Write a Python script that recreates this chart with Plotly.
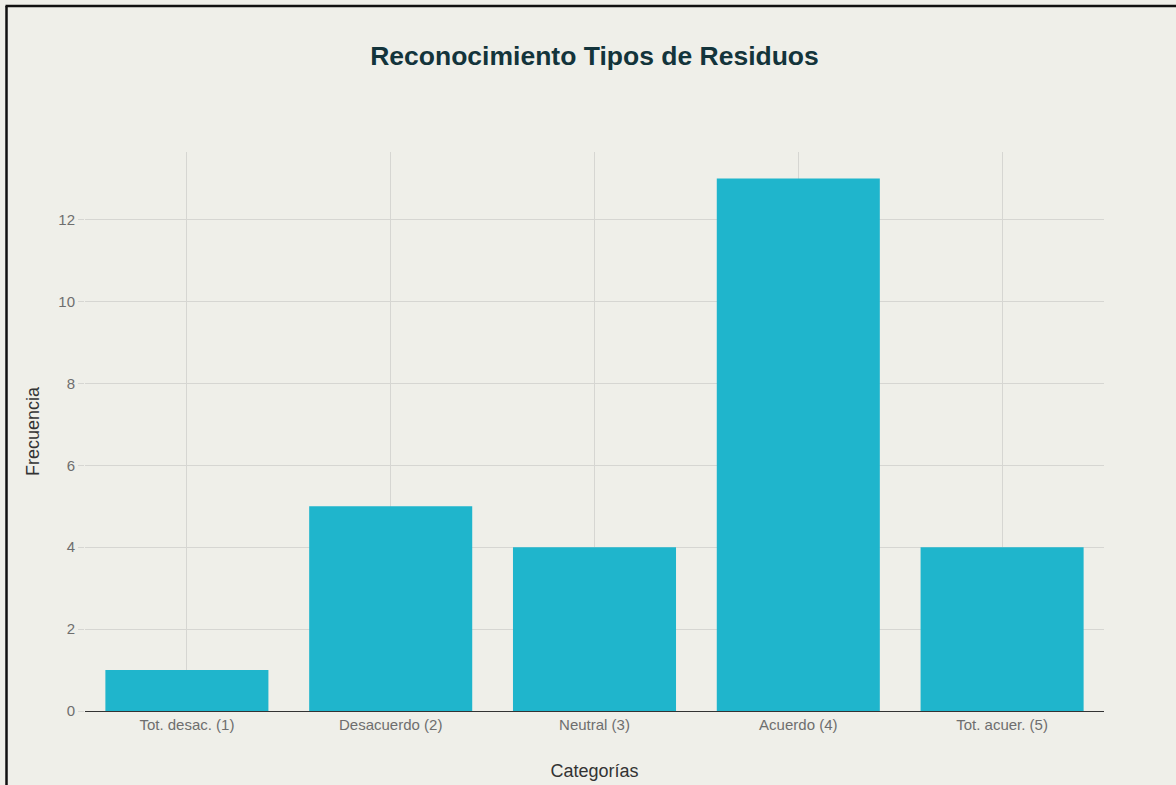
import plotly.graph_objects as go

# Survey responses: recognition of waste types
categorias = ["Tot. desac. (1)", "Desacuerdo (2)", "Neutral (3)", "Acuerdo (4)", "Tot. acuer. (5)"]
frecuencia = [1, 5, 4, 13, 4]

BG = "#EFEFE9"
BAR = "#1FB5CC"
TITLE = "#13343B"
FONT = "Liberation Sans, Arial, sans-serif"

fig = go.Figure(
    go.Bar(x=categorias, y=frecuencia, marker=dict(color=BAR, line=dict(width=0)))
)

W, H = 1176, 785
ml, mr, mt, mb = 85, 72, 152, 74
pw, ph = W - ml - mr, H - mt - mb


def px_x(p):
    return (p - ml) / pw


def px_y(p):
    return (H - mb - p) / ph


fig.update_layout(
    width=W,
    height=H,
    margin=dict(l=ml, r=mr, t=mt, b=mb),
    paper_bgcolor=BG,
    plot_bgcolor=BG,
    font=dict(family=FONT, color="#555555", size=15),
    title=dict(
        text="<b>Reconocimiento Tipos de Residuos</b>",
        x=0.5,
        xref="paper",
        y=1 - 56 / H,
        yanchor="middle",
        font=dict(family=FONT, size=26.5, color=TITLE),
    ),
    bargap=0.2,
    showlegend=False,
    shapes=[
        dict(type="line", xref="paper", yref="paper",
             x0=px_x(6.5), x1=px_x(6.5), y0=px_y(H + 5), y1=px_y(6),
             line=dict(color="#111111", width=2.5)),
        dict(type="line", xref="paper", yref="paper",
             x0=px_x(5.5), x1=px_x(W + 5), y0=px_y(6), y1=px_y(6),
             line=dict(color="#111111", width=2.5)),
    ],
)

fig.update_xaxes(
    title=dict(text="Categorías", font=dict(size=18, color="#333333"), standoff=32),
    automargin=False,
    showgrid=True,
    gridcolor="#D6D6D2",
    showline=True,
    linecolor="#333333",
    linewidth=1,
    tickfont=dict(size=15, color="#6E6E6E"),
    ticks="",
)

fig.update_yaxes(
    title=dict(text="Frecuencia", font=dict(size=18, color="#333333"), standoff=14),
    automargin=False,
    range=[0, 13.65],
    dtick=2,
    showgrid=True,
    gridcolor="#D6D6D2",
    zeroline=False,
    tickfont=dict(size=15, color="#6E6E6E"),
    ticks="outside",
    ticklen=6,
    tickcolor="#D6D6D2",
)

fig.write_html("out.html")
